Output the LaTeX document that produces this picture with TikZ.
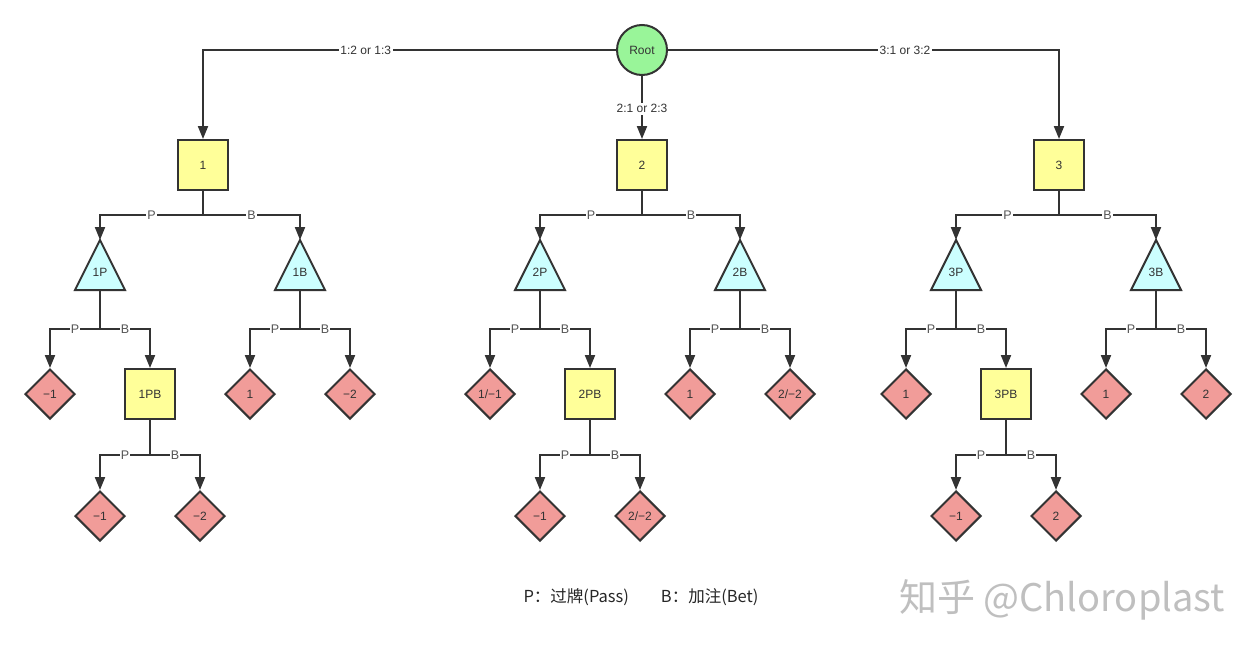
\documentclass[tikz,border=0pt]{standalone}
\usepackage{fontspec}
\setmainfont{Liberation Sans}
\newfontfamily\cjk{Noto Sans CJK SC}
\usetikzlibrary{shapes.geometric,arrows.meta,calc}
\definecolor{ln}{HTML}{333333}
\definecolor{yel}{HTML}{FFFF99}
\definecolor{cy}{HTML}{CCFFFF}
\definecolor{red}{HTML}{F19C99}
\definecolor{grn}{HTML}{99F599}
\definecolor{lbltxt}{HTML}{555555}
\tikzset{
  conn/.style={draw=ln,line width=2pt},
  arr/.style={conn,-{Triangle[length=13pt,width=10pt]}},
  boxnode/.style={draw=ln,line width=2pt,fill=yel,minimum size=50pt,inner sep=0pt,font=\fontsize{12}{14}\selectfont,text=ln},
  trinode/.style={rectangle,minimum width=54pt,minimum height=54pt,inner sep=0pt,outer sep=-2pt,
    text height=22.6pt,text depth=0pt,font=\fontsize{12}{14}\selectfont,text=ln,
    path picture={\draw[draw=ln,line width=2pt,fill=cy,line join=miter]
      ([yshift=-2pt]path picture bounding box.north) --
      ([xshift=2pt,yshift=2pt]path picture bounding box.south west) --
      ([xshift=-2pt,yshift=2pt]path picture bounding box.south east) -- cycle;}},
  dianode/.style={draw=ln,line width=2pt,fill=red,diamond,aspect=1,minimum width=50pt,minimum height=50pt,inner sep=0pt,font=\fontsize{12}{14}\selectfont,text=ln},
  rootnode/.style={draw=ln,line width=2pt,fill=grn,circle,minimum size=50pt,inner sep=0pt,font=\fontsize{12}{14}\selectfont,text=ln},
  lbl/.style={fill=white,inner sep=1pt,font=\fontsize{12.5}{14}\selectfont,text=lbltxt},
  lblb/.style={fill=white,inner sep=1.5pt,font=\fontsize{12}{14}\selectfont,text=ln},
}
\newcommand\splitPB[4]{%
  \coordinate (#1x) at ($(#1.south)+(0,#4)$);
  \draw[conn] (#1.south) -- (#1x);
  \draw[arr] (#1x) -| node[lbl,pos=0.25]{P} (#2.north);
  \draw[arr] (#1x) -| node[lbl,pos=0.25]{B} (#3.north);
}
\begin{document}
\begin{tikzpicture}[x=1pt,y=-1pt]
\useasboundingbox[fill=white] (0,0) rectangle (1256,656);
% root
\node[rootnode] (r) at (642,50) {Root};
% level 1
\node[boxnode] (b1) at (203,165) {1};
\node[boxnode] (b2) at (642,165) {2};
\node[boxnode] (b3) at (1059,165) {3};
% level 2
\node[trinode] (t1p) at (100,265) {1P};
\node[trinode] (t1b) at (300,265) {1B};
\node[trinode] (t2p) at (540,265) {2P};
\node[trinode] (t2b) at (740,265) {2B};
\node[trinode] (t3p) at (956,265) {3P};
\node[trinode] (t3b) at (1156,265) {3B};
% level 3
\node[dianode] (d1a) at (50,394) {−1};
\node[boxnode] (b1pb) at (150,394) {1PB};
\node[dianode] (d1c) at (250,394) {1};
\node[dianode] (d1d) at (350,394) {−2};
\node[dianode] (d2a) at (490,394) {1/−1};
\node[boxnode] (b2pb) at (590,394) {2PB};
\node[dianode] (d2c) at (690,394) {1};
\node[dianode] (d2d) at (790,394) {2/−2};
\node[dianode] (d3a) at (906,394) {1};
\node[boxnode] (b3pb) at (1006,394) {3PB};
\node[dianode] (d3c) at (1106,394) {1};
\node[dianode] (d3d) at (1206,394) {2};
% level 4
\node[dianode] (e1a) at (100,516) {−1};
\node[dianode] (e1b) at (200,516) {−2};
\node[dianode] (e2a) at (540,516) {−1};
\node[dianode] (e2b) at (640,516) {2/−2};
\node[dianode] (e3a) at (956,516) {−1};
\node[dianode] (e3b) at (1056,516) {2};
% root edges
\draw[arr] (r.west) -| node[lblb,pos=0.303]{1:2 or 1:3} (b1.north);
\draw[arr] (r.east) -| node[lblb,pos=0.303]{3:1 or 3:2} (b3.north);
\draw[arr] (r.south) -- node[lblb,pos=0.52]{2:1 or 2:3} (b2.north);
% splits
\splitPB{b1}{t1p}{t1b}{24}
\splitPB{b2}{t2p}{t2b}{24}
\splitPB{b3}{t3p}{t3b}{24}
\splitPB{t1p}{d1a}{b1pb}{39}
\splitPB{t1b}{d1c}{d1d}{39}
\splitPB{t2p}{d2a}{b2pb}{39}
\splitPB{t2b}{d2c}{d2d}{39}
\splitPB{t3p}{d3a}{b3pb}{39}
\splitPB{t3b}{d3c}{d3d}{39}
\splitPB{b1pb}{e1a}{e1b}{35}
\splitPB{b2pb}{e2a}{e2b}{35}
\splitPB{b3pb}{e3a}{e3b}{35}
% legend
\node[font=\cjk\fontsize{16.5}{19}\selectfont,text=black!85] (legend) at (641,597) {P：过牌(Pass)\hspace{32pt}B：加注(Bet)};
% watermark
\node[font=\cjk\fontsize{38}{44}\selectfont,text=gray!50] (wm) at (1062,600) {知乎 @Chloroplast};
\end{tikzpicture}
\end{document}
